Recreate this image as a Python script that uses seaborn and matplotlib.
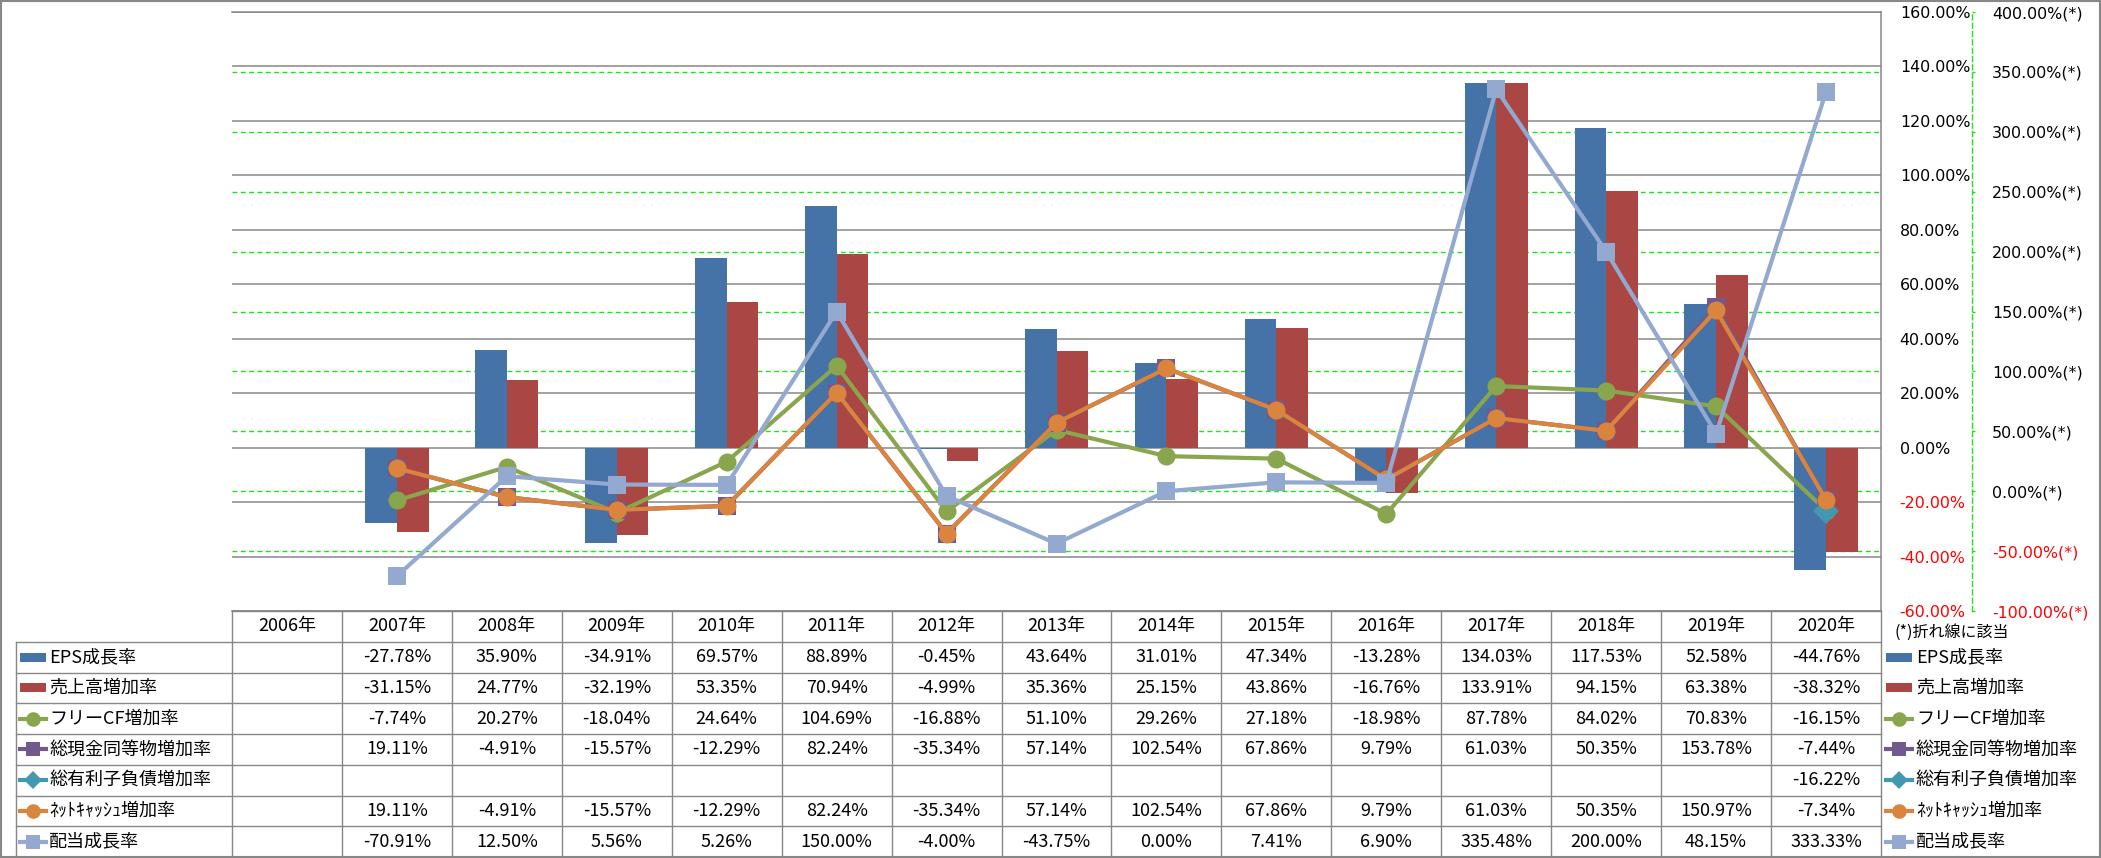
import numpy as np
import pandas as pd
import matplotlib
matplotlib.use('Agg')
import matplotlib.pyplot as plt
import matplotlib.transforms as mtransforms
from matplotlib.patches import Rectangle
from matplotlib.ticker import FixedLocator
import seaborn as sns

# データ (%)
years = [f'{y}年' for y in range(2006, 2021)]
eps = [np.nan, -27.78, 35.90, -34.91, 69.57, 88.89, -0.45, 43.64, 31.01, 47.34, -13.28, 134.03, 117.53, 52.58, -44.76]
sales = [np.nan, -31.15, 24.77, -32.19, 53.35, 70.94, -4.99, 35.36, 25.15, 43.86, -16.76, 133.91, 94.15, 63.38, -38.32]
fcf = [np.nan, -7.74, 20.27, -18.04, 24.64, 104.69, -16.88, 51.10, 29.26, 27.18, -18.98, 87.78, 84.02, 70.83, -16.15]
cash = [np.nan, 19.11, -4.91, -15.57, -12.29, 82.24, -35.34, 57.14, 102.54, 67.86, 9.79, 61.03, 50.35, 153.78, -7.44]
debt = [np.nan] * 14 + [-16.22]
netcash = [np.nan, 19.11, -4.91, -15.57, -12.29, 82.24, -35.34, 57.14, 102.54, 67.86, 9.79, 61.03, 50.35, 150.97, -7.34]
dividend = [np.nan, -70.91, 12.50, 5.56, 5.26, 150.00, -4.00, -43.75, 0.00, 7.41, 6.90, 335.48, 200.00, 48.15, 333.33]

bar_names = ['EPS成長率', '売上高増加率']
line_names = ['フリーCF増加率', '総現金同等物増加率', '総有利子負債増加率', 'ﾈｯﾄｷｬｯｼｭ増加率', '配当成長率']
all_names = bar_names + line_names
all_values = [eps, sales, fcf, cash, debt, netcash, dividend]

colors = {'EPS成長率': '#4572A7', '売上高増加率': '#AA4643', 'フリーCF増加率': '#89A54E',
          '総現金同等物増加率': '#71588F', '総有利子負債増加率': '#4198AF',
          'ﾈｯﾄｷｬｯｼｭ増加率': '#DB843D', '配当成長率': '#93A9CF'}
markers = {'フリーCF増加率': 'o', '総現金同等物増加率': 's', '総有利子負債増加率': 'D',
           'ﾈｯﾄｷｬｯｼｭ増加率': 'o', '配当成長率': 's'}

primary_ticks = np.arange(-60, 161, 20)
secondary_ticks = np.arange(-100, 401, 50)

GRAY = '#878787'
GREEN = '#19E619'
DASH = (0, (3.5, 2.5))
JP = ['Noto Sans CJK JP', 'DejaVu Sans']

plt.rcParams['font.family'] = ['DejaVu Sans', 'Noto Sans CJK JP']

W, H = 2101, 858
fig = plt.figure(figsize=(W / 100, H / 100), dpi=100)
px_left, px_right, px_top, px_bottom = 232, 1881, 12, 611
ax = fig.add_axes([px_left / W, 1 - px_bottom / H, (px_right - px_left) / W, (px_bottom - px_top) / H])

# 棒グラフ (主軸)
bar_df = pd.DataFrame({
    'year': years * 2,
    'series': [bar_names[0]] * 15 + [bar_names[1]] * 15,
    'value': eps + sales,
}).dropna()
sns.barplot(data=bar_df, x='year', y='value', hue='series', order=years, hue_order=bar_names,
            palette=colors, width=0.575, errorbar=None, saturation=1, linewidth=0,
            legend=False, ax=ax)
ax.set_ylim(-60, 160)
ax.set_xlim(-0.5, 14.5)


def to_primary(v):
    return -60 + (np.asarray(v) + 100) * 220 / 500


ax.set_axisbelow(True)
ax.yaxis.set_minor_locator(FixedLocator(to_primary(secondary_ticks[1:-1])))
ax.grid(which='major', axis='y', color=GRAY, lw=1.1)
ax.grid(which='minor', axis='y', color=GREEN, lw=1.0, ls=DASH)

# 折れ線 (第2軸)
ax2 = ax.twinx()
line_df = pd.DataFrame({
    'pos': list(range(15)) * 5,
    'series': [n for n in line_names for _ in range(15)],
    'value': fcf + cash + debt + netcash + dividend,
}).dropna()
sns.lineplot(data=line_df, x='pos', y='value', hue='series', style='series',
             hue_order=line_names, style_order=line_names, palette=colors,
             markers=markers, dashes=False, errorbar=None, legend=False,
             lw=3.0, markersize=13, markeredgewidth=0, ax=ax2)
ax2.set_ylim(-100, 400)
ax.set_xlim(-0.5, 14.5)

# 軸設定
ax.yaxis.tick_right()
ax.set_yticks(primary_ticks, labels=[f'{v:.2f}%' for v in primary_ticks])
ax.tick_params(axis='y', which='both', length=0, pad=13.5, labelsize=11.4)
ax.tick_params(axis='x', length=0, labelbottom=False)
ax.set_xlabel('')
ax.set_ylabel('')
for s in ['top', 'bottom', 'right']:
    ax.spines[s].set_color(GRAY)
    ax.spines[s].set_linewidth(1.1)
ax.spines['left'].set_visible(False)

ax2.set_yticks(secondary_ticks, labels=[f'{v:.2f}%(*)' for v in secondary_ticks])
ax2.tick_params(axis='y', direction='out', length=2.5, width=1, color=GREEN, pad=12, labelsize=11.4)
ax2.set_ylabel('')
ax2.set_xlabel('')
for s in ['top', 'bottom', 'left']:
    ax2.spines[s].set_visible(False)
ax2.spines['right'].set_position(('outward', 91 * 0.72))
ax2.spines['right'].set_color(GREEN)
ax2.spines['right'].set_linestyle(DASH)
ax2.spines['right'].set_linewidth(1.0)

for axis, ticks in [(ax, primary_ticks), (ax2, secondary_ticks)]:
    for t, v in zip(axis.yaxis.get_major_ticks(), ticks):
        col = 'red' if v < 0 else 'black'
        t.label1.set_color(col)
        t.label2.set_color(col)

# データテーブル
ov = fig.add_axes([0, 0, 1, 1])
ov.set_xlim(0, W)
ov.set_ylim(H, 0)
ov.axis('off')
ov.patch.set_visible(False)
tr = mtransforms.blended_transform_factory(ax.transData, ov.transData)

row_h = (857 - px_bottom) / 8
row_top = [px_bottom + row_h * k for k in range(9)]
n = len(years)

# 横線
ov.plot([px_left, px_right], [row_top[0]] * 2, color=GRAY, lw=1.0)
for k in range(1, 9):
    ov.plot([16, px_right], [row_top[k]] * 2, color=GRAY, lw=1.0)
# 縦線
for i in range(n + 1):
    ov.plot([i - 0.5, i - 0.5], [row_top[0], row_top[8]], color=GRAY, lw=1.0, transform=tr)
ov.plot([16, 16], [row_top[1], row_top[8]], color=GRAY, lw=1.0)

for i, y in enumerate(years):
    ov.text(i, (row_top[0] + row_top[1]) / 2, y, ha='center', va='center',
            fontsize=13, family=JP, transform=tr)

for r, (name, vals) in enumerate(zip(all_names, all_values)):
    yc = (row_top[r + 1] + row_top[r + 2]) / 2
    for i, v in enumerate(vals):
        if not np.isnan(v):
            ov.text(i, yc, f'{v:.2f}%', ha='center', va='center', fontsize=13,
                    family=JP, transform=tr)
    for kx, tx in [(20, 49), (1886, 1916)]:
        if name in bar_names:
            ov.add_patch(Rectangle((kx, yc - 4.5), 26, 9, color=colors[name], lw=0))
        else:
            ov.plot([kx, kx + 26], [yc, yc], color=colors[name], lw=3.0)
            ov.plot([kx + 13], [yc], marker=markers[name], color=colors[name],
                    markersize=10.5 if markers[name] != 'D' else 9, mew=0)
        ov.text(tx, yc, name, ha='left', va='center', fontsize=13, family=JP)

ov.text(1895, 632, '(*)折れ線に該当', ha='left', va='center', fontsize=11.5, family=JP)

# 外枠
ov.add_patch(Rectangle((1, 1), W - 2, H - 2, fill=False, edgecolor=GRAY, lw=1.5))

fig.savefig('out.png', dpi=100)
